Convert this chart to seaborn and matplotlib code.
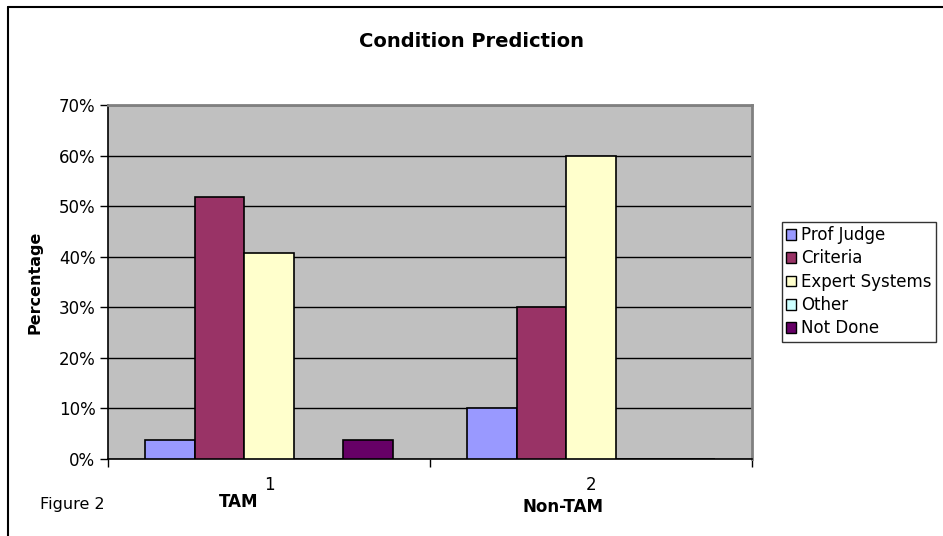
import matplotlib
matplotlib.use("Agg")
import matplotlib.pyplot as plt
import seaborn as sns
import pandas as pd
from matplotlib.lines import Line2D
from matplotlib.ticker import FixedLocator, PercentFormatter

groups = ["1", "2"]
group_names = ["TAM", "Non-TAM"]
series = ["Prof Judge", "Criteria", "Expert Systems", "Other", "Not Done"]
tam_values = [3.7, 51.9, 40.7, 0.0, 3.7]
nontam_values = [10.0, 30.0, 60.0, 0.0, 0.0]
colors = ["#9999FF", "#993366", "#FFFFCC", "#CCFFFF", "#660066"]
y_ticks = [0, 10, 20, 30, 40, 50, 60, 70]

rows = []
for g, vals in zip(groups, [tam_values, nontam_values]):
    for s, v in zip(series, vals):
        rows.append({"group": g, "series": s, "value": v})
df = pd.DataFrame(rows)

sns.set_theme(style="white")
plt.rcParams["font.family"] = ["DejaVu Sans"]
plt.rcParams["text.color"] = "black"
plt.rcParams["axes.labelcolor"] = "black"
plt.rcParams["xtick.color"] = "black"
plt.rcParams["ytick.color"] = "black"

fig = plt.figure(figsize=(9.43, 5.36), dpi=100)
ax = fig.add_axes([0.1145, 0.1437, 0.683, 0.6603])
ax.set_facecolor("#C0C0C0")

sns.barplot(data=df, x="group", y="value", hue="series", order=groups,
            hue_order=series, palette=colors, width=0.77, dodge=True,
            edgecolor="black", linewidth=1.2, errorbar=None, ax=ax,
            saturation=1, zorder=3)

ax.set_ylim(0, 70)
ax.set_xlim(-0.5, 1.5)
ax.yaxis.set_major_locator(FixedLocator(y_ticks))
ax.yaxis.set_major_formatter(PercentFormatter(decimals=0))
ax.grid(axis="y", color="black", linewidth=1.0, zorder=1)
ax.set_axisbelow(True)

# x ticks at group boundaries, labels at centers
ax.set_xticks([-0.5, 0.5, 1.5])
ax.set_xticklabels([])
ax.set_xticks([0, 1], minor=True)
ax.set_xticklabels(groups, minor=True, fontsize=12)
ax.tick_params(axis="x", which="major", direction="out", length=6, width=1,
               color="black", bottom=True)
ax.tick_params(axis="x", which="minor", length=0, pad=12)
ax.tick_params(axis="y", direction="out", length=6, width=1, color="black",
               left=True, labelsize=12, pad=3)

for side in ["left", "bottom"]:
    ax.spines[side].set_color("black")
    ax.spines[side].set_linewidth(1.2)
for side in ["top", "right"]:
    ax.spines[side].set_color("#808080")
    ax.spines[side].set_linewidth(2)

ax.set_xlabel("")
ax.set_ylabel("Percentage", fontsize=11.5, fontweight="bold", labelpad=12)

trans = ax.get_xaxis_transform()
ax.text(-0.093, -0.121, group_names[0], transform=trans, ha="center",
        va="center", fontsize=12, fontweight="bold")
ax.text(0.913, -0.136, group_names[1], transform=trans, ha="center",
        va="center", fontsize=12, fontweight="bold")

fig.text(0.5, 0.922, "Condition Prediction", ha="center", va="center",
         fontsize=14, fontweight="bold")
fig.text(0.042, 0.058, "Figure 2", ha="left", va="center", fontsize=11.5)

leg = ax.legend(loc="upper left", bbox_to_anchor=(782 / 943, 1 - 222 / 536),
                bbox_transform=fig.transFigure, fontsize=12, frameon=True,
                fancybox=False, edgecolor="black", handlelength=0.6,
                handleheight=0.6, handletextpad=0.3, labelspacing=0.32,
                borderpad=0.25, borderaxespad=0)
leg.get_frame().set_linewidth(1.0)
leg.get_frame().set_facecolor("white")
for h in leg.legend_handles:
    h.set_edgecolor("black")
    h.set_linewidth(1.0)

# outer chart border (left and top edges)
fig.add_artist(Line2D([8 / 943, 8 / 943], [0, 1 - 7 / 536], transform=fig.transFigure,
                      color="black", linewidth=1.5))
fig.add_artist(Line2D([8 / 943, 1], [1 - 7 / 536, 1 - 7 / 536], transform=fig.transFigure,
                      color="black", linewidth=1.5))

fig.savefig("out.png", dpi=100, facecolor="white")
